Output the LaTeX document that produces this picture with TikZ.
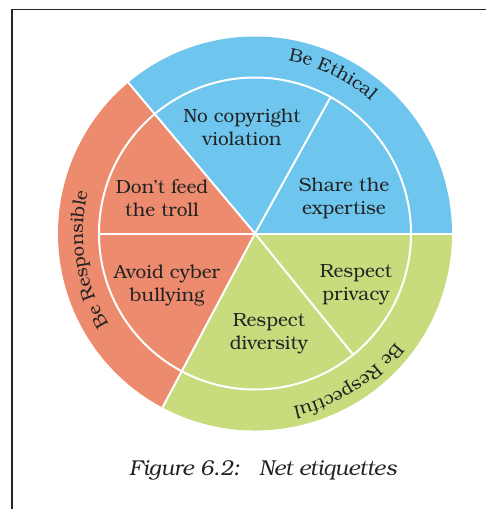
\documentclass[tikz,border=0pt]{standalone}
\usepackage{fontspec}
\setmainfont{texgyrebonum}[Extension=.otf, UprightFont=*-regular, ItalicFont=*-italic, BoldFont=*-bold, BoldItalicFont=*-bolditalic]
\usetikzlibrary{decorations.text}
\definecolor{ethblue}{RGB}{110,197,238}
\definecolor{resorange}{RGB}{237,139,110}
\definecolor{resgreen}{RGB}{200,220,126}
\definecolor{inktext}{RGB}{35,35,35}
\begin{document}
\begin{tikzpicture}[x=1pt,y=1pt,
  lbl/.style={align=center, font=\fontsize{19}{23}\selectfont, text=inktext, inner sep=0pt},
  divider/.style={draw=white, line width=2pt},
  ring/.style={decorate, decoration={text along path, text align=center}}
]
\useasboundingbox (0,-509) rectangle (486,0);
\fill[white] (0,-509) rectangle (486,0);
\draw[line width=1.1pt, black!85] (12,-509) -- (12,-9.5) -- (486,-9.5);
\begin{scope}[shift={(255,-233.5)}]
\coordinate (O) at (0,0);
\fill[ethblue] (O) -- (0:197) arc[start angle=0,end angle=130,radius=197] -- cycle;
\fill[resorange] (O) -- (130:197) arc[start angle=130,end angle=242,radius=197] -- cycle;
\fill[resgreen] (O) -- (242:197) arc[start angle=242,end angle=360,radius=197] -- cycle;
\draw[divider] (O) circle[radius=156];
\foreach \a in {0,130,242} \draw[divider] (O) -- (\a:197);
\foreach \a in {61,180,309} \draw[divider] (O) -- (\a:156);
\path[ring, decoration={text={|\color{inktext}\fontsize{18.5}{18.5}\selectfont|Be Ethical}}] (104:176) arc[start angle=104,end angle=24,radius=176];
\path[ring, decoration={text={|\color{inktext}\fontsize{18.5}{18.5}\selectfont|Be Responsible}}] (239:172) arc[start angle=239,end angle=139,radius=172];
\path[ring, decoration={text={|\color{inktext}\fontsize{18.5}{18.5}\selectfont|Be Respectful}}] (-7.6:177.5) arc[start angle=-7.6,end angle=-107.6,radius=177.5];
\end{scope}
\node[lbl] (nocopy) at (242,-127) {No copyright\\violation};
\node[lbl] (share) at (344,-198) {Share the\\expertise};
\node[lbl] (troll) at (162,-198) {Don’t feed\\the troll};
\node[lbl] (avoid) at (167,-285) {Avoid cyber\\bullying};
\node[lbl] (privacy) at (356,-285) {Respect\\privacy};
\node[lbl] (diversity) at (269,-334) {Respect\\diversity};
\node[font=\fontsize{21.5}{25}\selectfont\itshape, text=inktext, inner sep=0pt] (caption) at (263,-470) {Figure 6.2:\hspace{0.9em}Net etiquettes};
\end{tikzpicture}
\end{document}
